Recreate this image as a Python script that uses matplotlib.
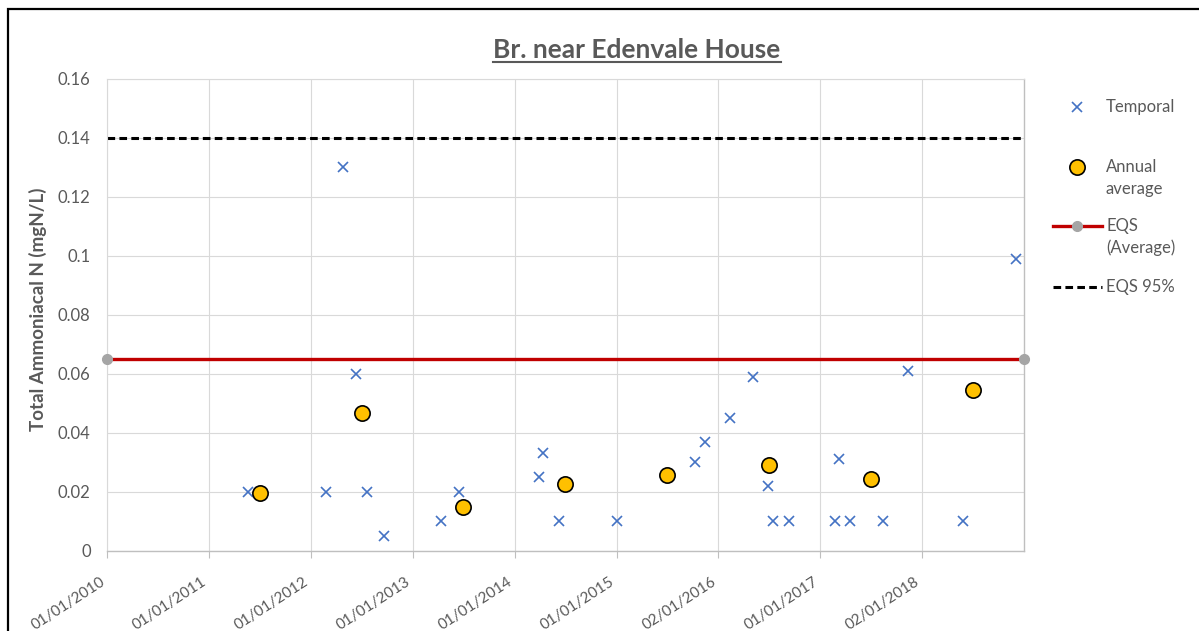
"""Br. near Edenvale House: total ammoniacal N samples, annual means and EQS lines."""

import matplotlib

matplotlib.use("Agg")

import matplotlib.pyplot as plt
import numpy as np
import pandas as pd
from matplotlib.lines import Line2D
from matplotlib.patches import Rectangle
from matplotlib.ticker import FuncFormatter


TITLE = "Br. near Edenvale House"
Y_LABEL = "Total Ammoniacal N (mgN/L)"

X_START = "2010-01-01"
X_END = "2019-01-01"
X_TICK_LABELS = [
    "01/01/2010", "01/01/2011", "01/01/2012", "01/01/2013", "01/01/2014",
    "01/01/2015", "02/01/2016", "01/01/2017", "02/01/2018",
]
Y_TICKS = [0, 0.02, 0.04, 0.06, 0.08, 0.1, 0.12, 0.14, 0.16]

TEMPORAL_DATES = [
    "2011-05-21", "2012-02-23", "2012-04-26", "2012-06-11", "2012-07-19",
    "2012-09-19", "2013-04-11", "2013-06-16", "2014-03-30", "2014-04-11",
    "2014-06-10", "2015-01-02", "2015-10-11", "2015-11-13", "2016-02-13",
    "2016-05-05", "2016-06-28", "2016-07-14", "2016-09-09", "2017-02-22",
    "2017-03-10", "2017-04-17", "2017-08-15", "2017-11-12", "2018-05-28",
    "2018-12-02",
]
TEMPORAL_VALUES = [
    0.02, 0.02, 0.13, 0.06, 0.02,
    0.005, 0.01, 0.02, 0.025, 0.033,
    0.01, 0.01, 0.03, 0.037, 0.045,
    0.059, 0.022, 0.01, 0.01, 0.01,
    0.031, 0.01, 0.01, 0.061, 0.01,
    0.099,
]

ANNUAL_DATES = [
    "2011-07-01", "2012-07-01", "2013-07-01", "2014-07-01",
    "2015-07-01", "2016-07-01", "2017-07-01", "2018-07-01",
]
ANNUAL_VALUES = [0.0197, 0.0468, 0.0147, 0.0225, 0.0257, 0.0292, 0.0242, 0.0545]

EQS_AVG_DATES = [X_START, X_END]
EQS_AVG_VALUES = [0.065, 0.065]
EQS_95_DATES = [X_START, X_END]
EQS_95_VALUES = [0.14, 0.14]

GREY_TEXT = "#595959"
FONT = "Lato"
W, H = 1199, 631


def to_days(dates):
    return (pd.to_datetime(dates) - pd.Timestamp(X_START)).days.to_numpy(dtype=float)


def fx(px):
    return px / W


def fy(py):
    return 1 - py / H


def main():
    plt.rcParams["font.family"] = [FONT, "DejaVu Sans"]
    fig = plt.figure(figsize=(W / 100, H / 100), dpi=100, facecolor="white")
    ax = fig.add_axes([fx(107.3), fy(550.7), fx(1024) - fx(107.3), fy(79) - fy(550.7)])

    span = to_days([X_END])[0]
    ax.set_xlim(0, span)
    ax.set_ylim(0, 0.16)

    ax.grid(True, color="#D9D9D9", linewidth=0.8, zorder=0)
    ax.set_axisbelow(True)

    ax.plot(to_days(EQS_95_DATES), EQS_95_VALUES, color="black", linewidth=2.2,
            dashes=(2.5, 1.4), zorder=2, clip_on=False)
    ax.plot(to_days(EQS_AVG_DATES), EQS_AVG_VALUES, color="#C00000", linewidth=2.4,
            marker="o", markersize=7, markerfacecolor="#A5A5A5", markeredgecolor="#A5A5A5",
            zorder=3, clip_on=False)
    ax.plot(to_days(TEMPORAL_DATES), TEMPORAL_VALUES, linestyle="none", marker="x",
            markersize=6.8, markeredgewidth=1.2, color="#4472C4", zorder=4)
    ax.plot(to_days(ANNUAL_DATES), ANNUAL_VALUES, linestyle="none", marker="o",
            markersize=11, markerfacecolor="#FFC000", markeredgecolor="black",
            markeredgewidth=1.2, zorder=5)

    ax.set_xticks(np.linspace(0, span, len(X_TICK_LABELS) + 1)[:-1])
    ax.set_xticklabels(X_TICK_LABELS, rotation=33, ha="right", va="top")
    ax.set_yticks(Y_TICKS)
    ax.yaxis.set_major_formatter(FuncFormatter(lambda v, _: f"{v:g}"))
    ax.tick_params(axis="x", length=5, width=0.8, color="#BFBFBF", pad=12,
                   labelsize=11, labelcolor=GREY_TEXT)
    ax.tick_params(axis="y", length=0, pad=12, labelsize=12, labelcolor=GREY_TEXT)
    for side in ("top", "left"):
        ax.spines[side].set_color("#D9D9D9")
        ax.spines[side].set_linewidth(0.8)
    for side in ("bottom", "right"):
        ax.spines[side].set_color("#BFBFBF")
        ax.spines[side].set_linewidth(1.0)

    title = fig.text(fx(637), fy(58), TITLE, ha="center", va="baseline",
                     fontsize=19, fontweight="bold", color=GREY_TEXT)
    fig.text(fx(38), fy(309), Y_LABEL, rotation=90, ha="center", va="center",
             fontsize=13.5, fontweight="bold", color=GREY_TEXT)

    # legend drawn by hand: Excel puts each handle on the first text line
    legend_rows = [
        ("Temporal", 107, dict(linestyle="none", marker="x", markersize=6.8,
                               markeredgewidth=1.2, color="#4472C4")),
        ("Annual\naverage", 167, dict(linestyle="none", marker="o", markersize=11,
                                      markerfacecolor="#FFC000", markeredgecolor="black",
                                      markeredgewidth=1.2)),
        ("EQS\n(Average)", 226, dict(color="#C00000", linewidth=2.4, marker="o",
                                     markersize=7, markerfacecolor="#A5A5A5",
                                     markeredgecolor="#A5A5A5", markevery=[1])),
        ("EQS 95%", 287, dict(color="black", linewidth=2.2, dashes=(2.5, 1.4))),
    ]
    for label, y0, style in legend_rows:
        if style.get("linestyle") == "none":
            xs, ys = [fx(1077)], [fy(y0)]
        else:
            xs, ys = [fx(1053), fx(1077), fx(1102)], [fy(y0)] * 3
        fig.add_artist(Line2D(xs, ys, transform=fig.transFigure, **style))
        for i, line in enumerate(label.split("\n")):
            fig.text(fx(1106), fy(y0 + 22 * i), line, ha="left", va="center",
                     fontsize=12, color=GREY_TEXT)

    fig.add_artist(Rectangle((fx(8), -0.5), 2.0, fy(9) + 0.5, transform=fig.transFigure,
                             fill=False, edgecolor="black", linewidth=1.6))

    fig.canvas.draw()
    bb = title.get_window_extent().transformed(fig.transFigure.inverted())
    fig.add_artist(Line2D([bb.x0, bb.x1], [fy(62)] * 2, transform=fig.transFigure,
                          color=GREY_TEXT, linewidth=1.5))

    fig.savefig("out.png", dpi=100, facecolor="white")
    plt.close(fig)


if __name__ == "__main__":
    main()
